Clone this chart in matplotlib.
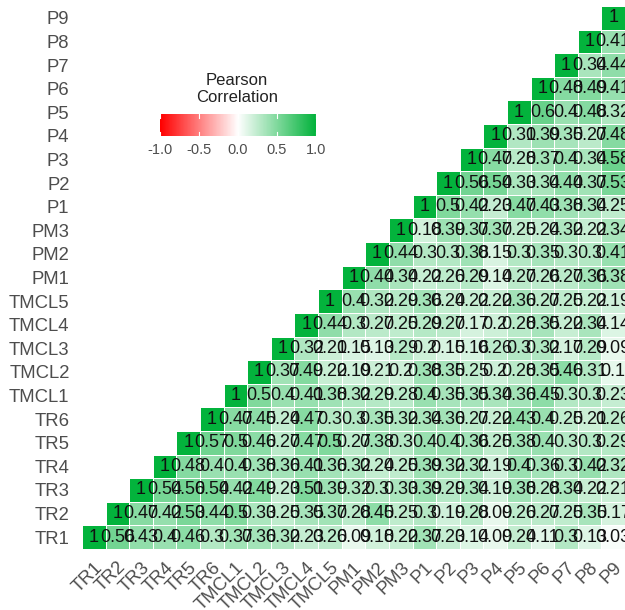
import numpy as np
import matplotlib
matplotlib.use("Agg")
import matplotlib.pyplot as plt
from matplotlib.colors import LinearSegmentedColormap, Normalize

plt.rcParams['font.family'] = ['Liberation Sans', 'DejaVu Sans']

variables = ["TR1", "TR2", "TR3", "TR4", "TR5", "TR6",
             "TMCL1", "TMCL2", "TMCL3", "TMCL4", "TMCL5",
             "PM1", "PM2", "PM3",
             "P1", "P2", "P3", "P4", "P5", "P6", "P7", "P8", "P9"]

# correlations of each variable with itself and every later variable
r_TR1 = [1, .56, .43, .4, .46, .3, .37, .36, .32, .23, .26, .09, .18, .22, .37, .23, .14, .09, .24, .11, .3, .13, .03]
r_TR2 = [1, .47, .42, .53, .44, .5, .33, .25, .35, .37, .28, .45, .25, .3, .19, .28, .09, .26, .27, .25, .35, .17]
r_TR3 = [1, .54, .56, .54, .42, .49, .23, .51, .39, .32, .30, .33, .39, .29, .34, .19, .38, .28, .34, .22, .21]
r_TR4 = [1, .48, .40, .40, .38, .36, .41, .36, .32, .24, .25, .39, .32, .32, .19, .40, .36, .3, .42, .32]
r_TR5 = [1, .57, .50, .46, .27, .47, .5, .27, .38, .30, .40, .40, .36, .25, .38, .40, .30, .30, .29]
r_TR6 = [1, .47, .45, .24, .47, .30, .30, .35, .32, .34, .36, .27, .22, .43, .4, .25, .21, .26]
r_TMCL1 = [1, .5, .40, .41, .38, .32, .29, .28, .40, .35, .35, .34, .36, .45, .30, .30, .23]
r_TMCL2 = [1, .37, .49, .22, .19, .21, .20, .38, .35, .25, .2, .28, .35, .46, .31, .1]
r_TMCL3 = [1, .32, .21, .15, .13, .29, .2, .15, .16, .26, .30, .32, .17, .29, .09]
r_TMCL4 = [1, .44, .30, .27, .25, .29, .27, .17, .2, .28, .35, .22, .34, .14]
r_TMCL5 = [1, .40, .32, .29, .36, .24, .22, .22, .36, .27, .25, .22, .19]
r_PM1 = [1, .44, .34, .22, .26, .29, .14, .27, .26, .27, .36, .38]
r_PM2 = [1, .44, .3, .3, .38, .15, .3, .35, .30, .30, .41]
r_PM3 = [1, .18, .39, .37, .37, .25, .24, .32, .22, .34]
r_P1 = [1, .5, .42, .23, .47, .43, .38, .34, .25]
r_P2 = [1, .56, .54, .33, .34, .44, .37, .53]
r_P3 = [1, .47, .28, .37, .40, .34, .58]
r_P4 = [1, .31, .39, .35, .27, .48]
r_P5 = [1, .6, .4, .48, .32]
r_P6 = [1, .48, .49, .41]
r_P7 = [1, .34, .44]
r_P8 = [1, .41]
r_P9 = [1]

rows = [r_TR1, r_TR2, r_TR3, r_TR4, r_TR5, r_TR6, r_TMCL1, r_TMCL2, r_TMCL3,
        r_TMCL4, r_TMCL5, r_PM1, r_PM2, r_PM3, r_P1, r_P2, r_P3, r_P4, r_P5,
        r_P6, r_P7, r_P8, r_P9]

legend_ticks = [-1.0, -0.5, 0.0, 0.5, 1.0]

n = len(variables)
M = np.full((n, n), np.nan)
for i, r in enumerate(rows):
    for k, v in enumerate(r):
        M[i, i + k] = v

cmap = LinearSegmentedColormap.from_list("rwg", ["#FF0000", "#FFFFFF", "#03B33C"])
norm = Normalize(-1, 1)

W, H = 625, 610
fig = plt.figure(figsize=(W / 100, H / 100), dpi=100)
ax = fig.add_axes([82 / W, 1 - 549 / H, 543 / W, 543 / H])

Mm = np.ma.masked_invalid(M)
ax.pcolormesh(np.arange(n + 1) - 0.5, np.arange(n + 1) - 0.5, Mm,
              cmap=cmap, norm=norm, edgecolors="white", linewidth=0.6)

def fmt(v):
    return f"{round(v, 2):g}"

for i in range(n):
    for j in range(n):
        if not np.isnan(M[i, j]):
            ax.text(j, i, fmt(M[i, j]), ha="center", va="center",
                    fontsize=13, color="#111111", clip_on=False)

ax.set_xlim(-0.5, n - 0.5)
ax.set_ylim(-0.5, n - 0.5)
for s in ax.spines.values():
    s.set_visible(False)
ax.set_xticks(range(n))
ax.set_yticks(range(n))
ax.set_yticklabels(variables, fontsize=13.3, color="#4D4D4D")
ax.set_xticklabels(variables, fontsize=13.3, color="#4D4D4D", rotation=45,
                   ha="right", va="top", rotation_mode="anchor")
ax.tick_params(length=0, pad=7)
ax.tick_params(axis="y", pad=9)

# legend colourbar
cax = fig.add_axes([158 / W, 1 - 136 / H, 160 / W, 22 / H])
grad = np.linspace(-1, 1, 300).reshape(1, -1)
cax.imshow(grad, aspect="auto", cmap=cmap, norm=norm, extent=(-1, 1, 0, 1))
for t in legend_ticks:
    cax.plot([t, t], [0, 0.2], color="white", lw=0.8)
    cax.plot([t, t], [0.8, 1], color="white", lw=0.8)
cax.set_xlim(-1.03, 1.03)
cax.set_ylim(0, 1)
cax.set_yticks([])
cax.set_xticks(legend_ticks)
cax.set_xticklabels([f"{t:.1f}" for t in legend_ticks], fontsize=10.5, color="#4D4D4D")
cax.tick_params(length=0, pad=5)
for s in cax.spines.values():
    s.set_visible(False)
fig.text(237 / W, 1 - 89 / H, "Pearson\nCorrelation", ha="center", va="center",
         fontsize=12, color="#222222", linespacing=1.1)

fig.savefig("out.png", dpi=100)
